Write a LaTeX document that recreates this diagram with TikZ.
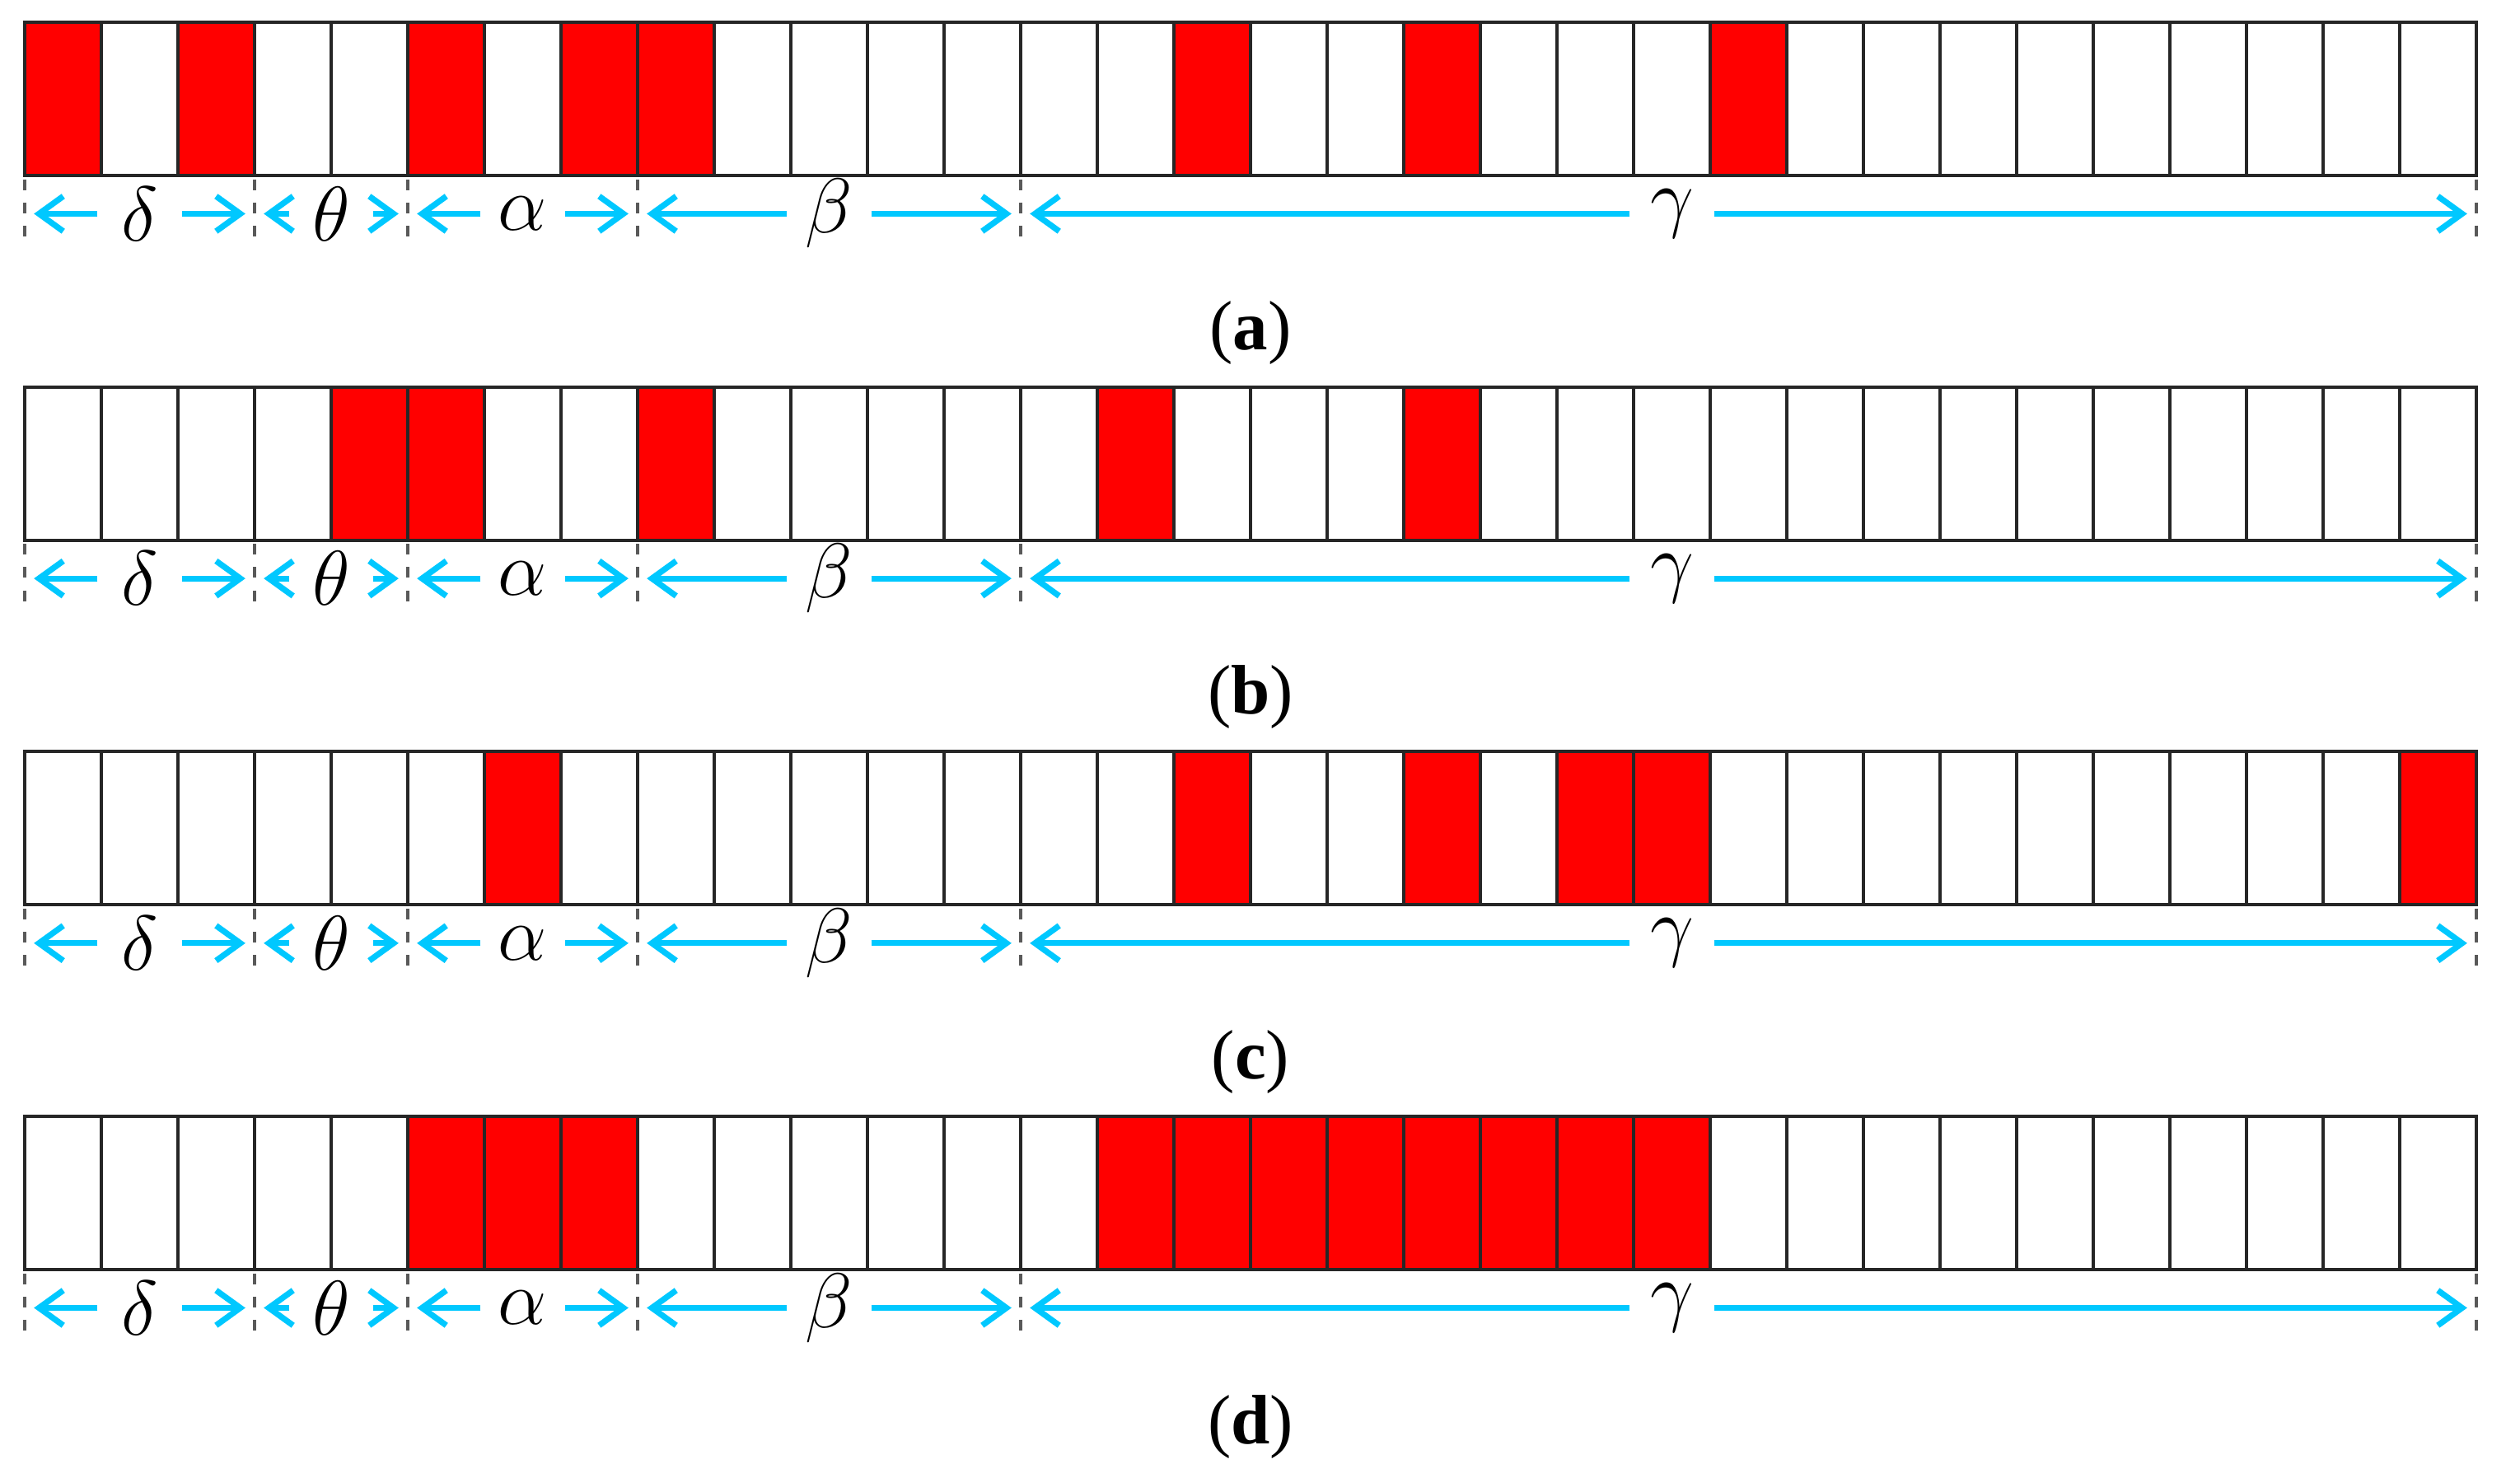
\documentclass[tikz,border=0pt]{standalone}
\usepackage{fontspec}
\setmainfont{Liberation Serif}
\usetikzlibrary{arrows.meta}
\definecolor{spancyan}{RGB}{0,200,255}
\definecolor{cellred}{RGB}{255,0,0}

\begin{document}
\begin{tikzpicture}[x=0.5cm,y=0.5cm,
  cellline/.style={line width=0.6pt,black!85},
  divline/.style={line width=0.5pt,black!65,dash pattern=on 2pt off 2.3pt},
  spanarrow/.style={line width=1.1pt,spancyan,-{Straight Barb[length=4.5pt,width=6.5pt]}},
  greeklbl/.style={inner sep=0pt,minimum width=0.535cm,font=\fontsize{14}{16}\selectfont},
  subcap/.style={font=\fontsize{13}{15}\selectfont}]
\useasboundingbox (-0.323,0.29) rectangle (32.57,-19.0);

\foreach \rowno/\rowid/\cells in {0/a/{0,2,5,7,8,15,18,22},
                                  1/b/{4,5,8,14,18},
                                  2/c/{6,15,18,20,21,31},
                                  3/d/{5,6,7,14,15,16,17,18,19,20,21}}{
\begin{scope}[yshift={-2.38cm*\rowno}]
% cells
\foreach \c in \cells \fill[cellred] (\c,-2) rectangle ++(1,2);
\draw[cellline] (0,0) rectangle (32,-2);
\foreach \c in {1,...,31} \draw[cellline] (\c,0) -- (\c,-2);

% dividers
\foreach \k in {0,3,5,8,13,32} \draw[divline] (\k,-2.05) -- (\k,-2.85);

% ranges
\node[greeklbl] (dl\rowid) at (1.5,-2.5) {$\delta$};
\node[greeklbl] (th\rowid) at (4,-2.5) {$\theta$};
\node[greeklbl] (al\rowid) at (6.5,-2.5) {$\alpha$};
\node[greeklbl] (be\rowid) at (10.5,-2.5) {$\beta$};
\node[greeklbl] (ga\rowid) at (21.5,-2.5) {$\gamma$};
\foreach \k/\n in {0/0,3/1,5/2,8/3,13/4} \coordinate (L\n\rowid) at (\k+0.12,-2.5);
\foreach \k/\n in {3/0,5/1,8/2,13/3,32/4} \coordinate (R\n\rowid) at (\k-0.12,-2.5);
\draw[spanarrow] (dl\rowid.west) -- (L0\rowid);
\draw[spanarrow] (dl\rowid.east) -- (R0\rowid);
\draw[spanarrow] (th\rowid.west) -- (L1\rowid);
\draw[spanarrow] (th\rowid.east) -- (R1\rowid);
\draw[spanarrow] (al\rowid.west) -- (L2\rowid);
\draw[spanarrow] (al\rowid.east) -- (R2\rowid);
\draw[spanarrow] (be\rowid.west) -- (L3\rowid);
\draw[spanarrow] (be\rowid.east) -- (R3\rowid);
\draw[spanarrow] (ga\rowid.west) -- (L4\rowid);
\draw[spanarrow] (ga\rowid.east) -- (R4\rowid);

\node[subcap] (cap\rowid) at (16,-4.05) {(\textbf{\rowid})};
\end{scope}
}
\end{tikzpicture}
\end{document}
